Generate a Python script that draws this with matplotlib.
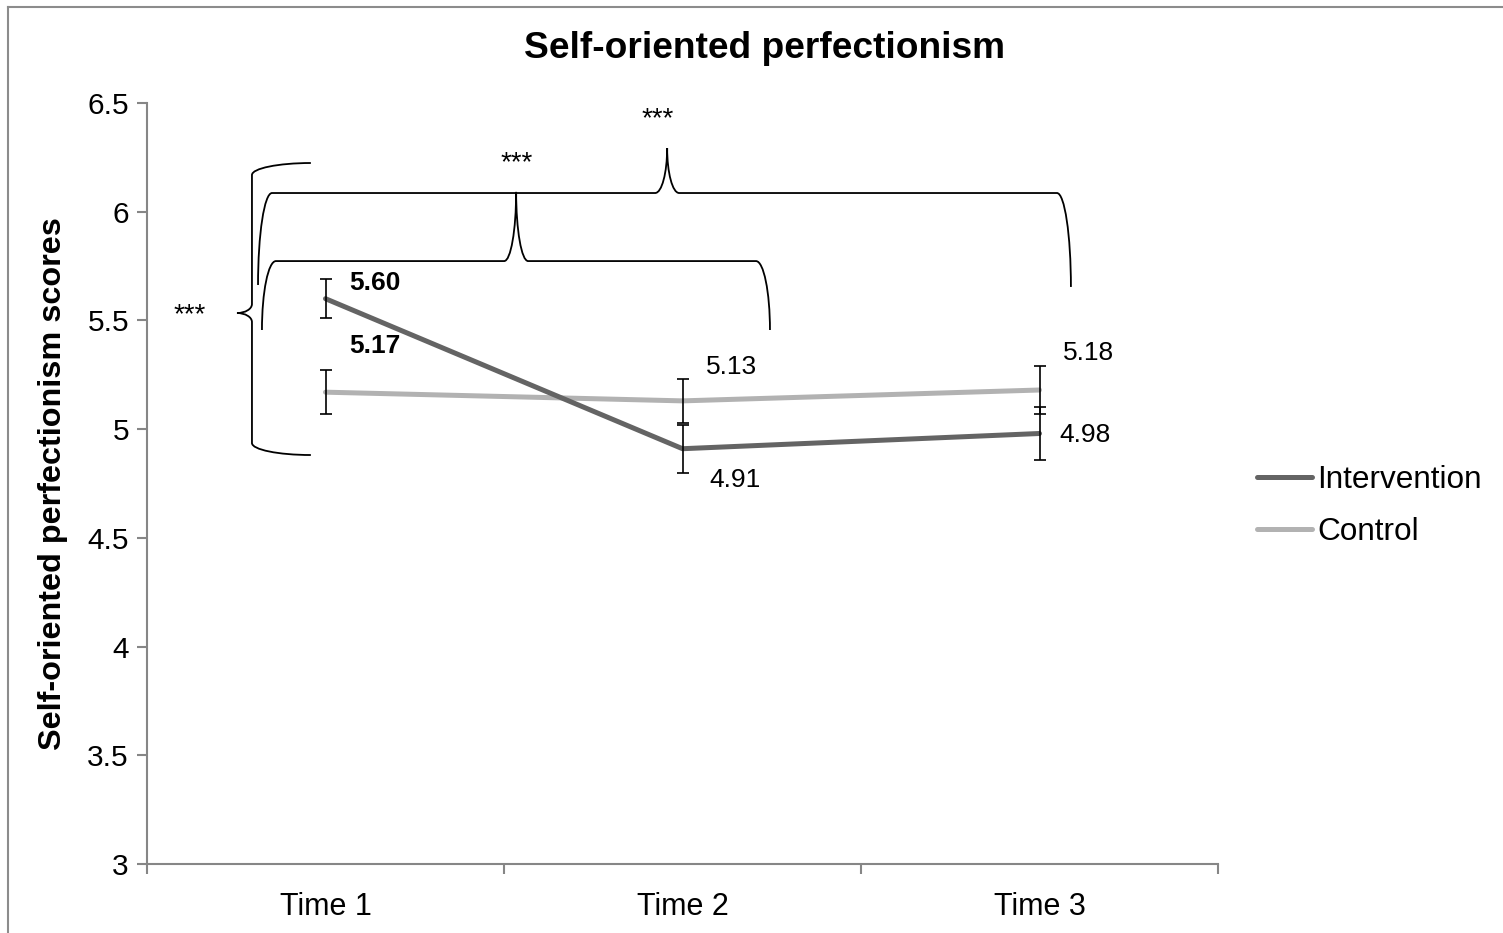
import numpy as np
import matplotlib
matplotlib.use("Agg")
from matplotlib import pyplot as plt
from matplotlib.path import Path
from matplotlib.patches import PathPatch
from matplotlib.lines import Line2D

plt.rcParams['font.family'] = ['Liberation Sans', 'DejaVu Sans']

# data
times = ['Time 1', 'Time 2', 'Time 3']
intervention = [5.60, 4.91, 4.98]
intervention_err = [0.09, 0.11, 0.12]
control = [5.17, 5.13, 5.18]
control_err = [0.10, 0.10, 0.11]
yticks = [3, 3.5, 4, 4.5, 5, 5.5, 6, 6.5]

# label offsets (pixels) and boldness for the value labels
int_offsets = [(49, 16), (52, -31), (45, -2)]
ctrl_offsets = [(49, 46), (49, 34), (49, 37)]
bold_labels = [True, False, False]

W, H = 1503, 933
fig = plt.figure(figsize=(W / 100, H / 100), dpi=100)
ax = fig.add_axes([147 / W, (H - 864) / H, (1218 - 147) / W, (864 - 103) / H])

x = np.arange(len(times))
dark = '#646464'
light = '#b2b2b2'
ax.plot(x, control, color=light, lw=3.6, solid_capstyle='round', zorder=3)
ax.plot(x, intervention, color=dark, lw=3.6, solid_capstyle='round', zorder=4)
ax.errorbar(x, control, yerr=control_err, fmt='none', ecolor='black',
            elinewidth=1.2, capsize=4.3, capthick=1.2, zorder=5)
ax.errorbar(x, intervention, yerr=intervention_err, fmt='none', ecolor='black',
            elinewidth=1.2, capsize=4.3, capthick=1.2, zorder=5)

for i in range(len(times)):
    w = 'bold' if bold_labels[i] else 'normal'
    ax.annotate(f"{intervention[i]:.2f}", (x[i], intervention[i]), xytext=int_offsets[i],
                textcoords='offset pixels', ha='center', va='center', fontsize=19, fontweight=w)
    ax.annotate(f"{control[i]:.2f}", (x[i], control[i]), xytext=ctrl_offsets[i],
                textcoords='offset pixels', ha='center', va='center', fontsize=19, fontweight=w)

ax.set_xlim(-0.5, 2.5)
ax.set_ylim(3, 6.5)
ax.set_yticks(yticks)
ax.set_yticklabels([f"{t:g}" for t in yticks])
ax.set_xticks(x)
ax.set_xticklabels(times)
ax.set_xticks([-0.5, 0.5, 1.5, 2.5], minor=True)
ax.tick_params(axis='x', which='major', length=0, labelsize=22, pad=20)
ax.tick_params(axis='x', which='minor', length=7, width=1.5, color='#868686')
ax.tick_params(axis='y', length=7, width=1.5, color='#868686', labelsize=21.5, pad=6)
for s in ['top', 'right']:
    ax.spines[s].set_visible(False)
for s in ['left', 'bottom']:
    ax.spines[s].set_color('#868686')
    ax.spines[s].set_linewidth(1.5)

ax.set_ylabel('Self-oriented perfectionism scores', fontsize=23.3, fontweight='bold', labelpad=14)
fig.text(764 / W, 1 - 48 / H, 'Self-oriented perfectionism', ha='center', va='center',
         fontsize=26.7, fontweight='bold')

# significance braces: (orientation, end a, end b, bar, tip) in data units
K = 0.5523


def brace(ax, horizontal, ends, bar, tip, r=14, r2=12, lw=1.3):
    to_disp = ax.transData.transform
    to_data = ax.transData.inverted().transform
    if horizontal:
        pts = [to_disp(e) for e in ends]
        u0, ve0 = pts[0]
        u1, ve1 = pts[1]
        vb = to_disp((ends[0][0], bar))[1]
        ut, vt = to_disp(tip)
    else:
        pts = [to_disp(e) for e in ends]
        ve0, u0 = pts[0]
        ve1, u1 = pts[1]
        vb = to_disp((bar, ends[0][1]))[0]
        vt, ut = to_disp(tip)
    s = np.sign(u1 - u0)
    uv = [(u0, ve0),
          (u0, ve0 + K * (vb - ve0)), (u0 + s * r * (1 - K), vb), (u0 + s * r, vb),
          (ut - s * r2, vb),
          (ut - s * r2 * (1 - K), vb), (ut, vt - K * (vt - vb)), (ut, vt),
          (ut, vt - K * (vt - vb)), (ut + s * r2 * (1 - K), vb), (ut + s * r2, vb),
          (u1 - s * r, vb),
          (u1 - s * r * (1 - K), vb), (u1, ve1 + K * (vb - ve1)), (u1, ve1)]
    codes = [Path.MOVETO] + [Path.CURVE4] * 3 + [Path.LINETO] + [Path.CURVE4] * 6 + \
            [Path.LINETO] + [Path.CURVE4] * 3
    disp = [(u, v) if horizontal else (v, u) for u, v in uv]
    verts = to_data(np.array(disp))
    ax.add_patch(PathPatch(Path(verts, codes), fill=False, lw=lw, ec='black',
                           clip_on=False, zorder=6))


# T1 intervention vs control (vertical brace, tip left)
brace(ax, False, [(-0.041, 6.224), (-0.041, 4.881)], -0.206, (-0.248, 5.534), r=12, r2=9)
# T1 vs T2
brace(ax, True, [(-0.178, 5.456), (1.245, 5.456)], 5.773, (0.534, 6.091))
# T1 vs T3
brace(ax, True, [(-0.189, 5.663), (2.088, 5.654)], 6.086, (0.957, 6.293))

stars = [(-0.380, 5.525), (0.536, 6.224), (0.931, 6.426)]
for sx, sy in stars:
    ax.text(sx, sy, '***', ha='center', va='center', fontsize=20, clip_on=False)

handles = [Line2D([], [], color=dark, lw=3.6, solid_capstyle='round'),
           Line2D([], [], color=light, lw=3.6, solid_capstyle='round')]
fig.legend(handles, ['Intervention', 'Control'], loc='center left',
           bbox_to_anchor=(1257 / W, 1 - 506 / H), frameon=False, fontsize=22.7,
           handlelength=1.75, handletextpad=0.15, labelspacing=0.68,
           borderpad=0, borderaxespad=0)

# chart border (left and top edges visible)
fig.add_artist(Line2D([8 / W, 8 / W], [0, 1 - 7 / H], color='#8c8c8c', lw=1.5))
fig.add_artist(Line2D([8 / W, 1], [1 - 7 / H, 1 - 7 / H], color='#8c8c8c', lw=1.5))

fig.savefig('out.png', dpi=100)
